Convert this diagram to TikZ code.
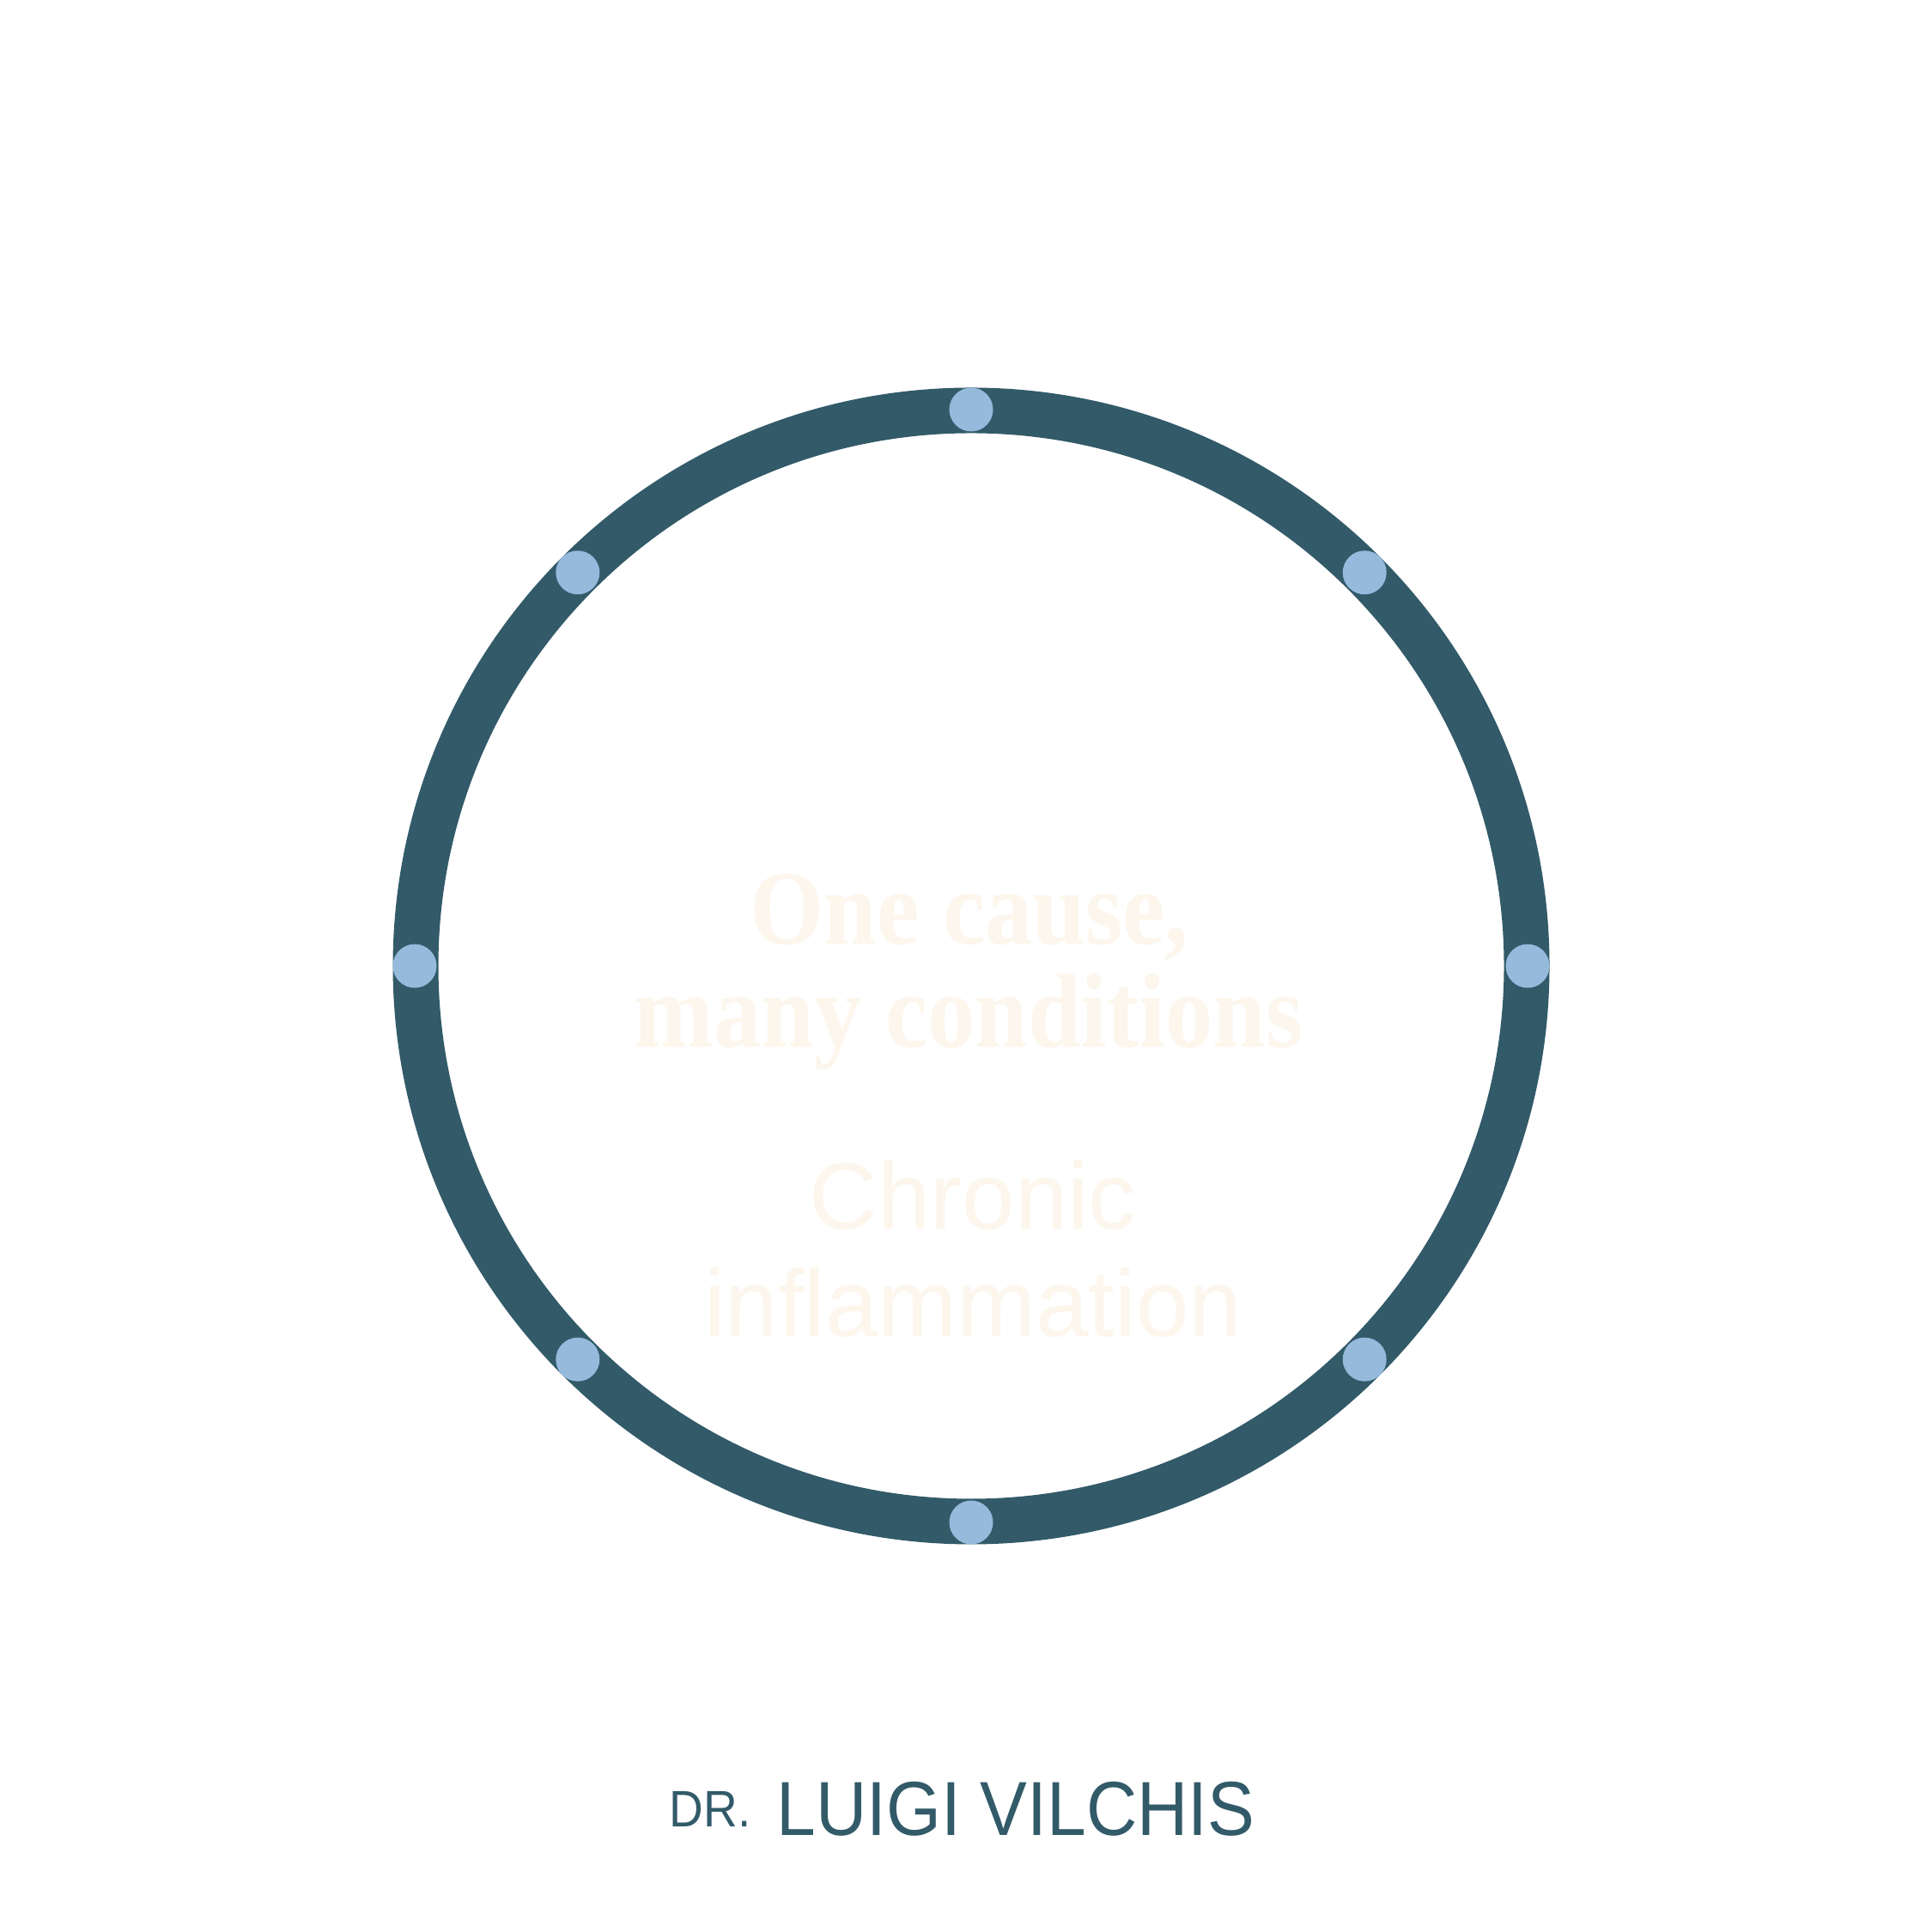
\documentclass[tikz,border=0pt]{standalone}
\usepackage{fontspec}
\usetikzlibrary{calc}
\newfontfamily\headfont[FakeStretch=0.9]{Liberation Serif}
\newfontfamily\subfont{Liberation Sans}
\newfontfamily\logofont[FakeStretch=0.92]{Liberation Sans}
\definecolor{ringcol}{HTML}{325A69}
\definecolor{dotcol}{HTML}{95BADC}
\definecolor{creamcol}{HTML}{FCF6EC}
\tikzset{
  ringline/.style={draw=ringcol, line width=0.53cm},
  dotmark/.style={circle, fill=dotcol, minimum size=0.51cm, inner sep=0pt},
  headtxt/.style={anchor=base, inner sep=0pt, text=creamcol, font=\headfont\bfseries\fontsize{35}{34}\selectfont},
  subtxt/.style={anchor=base, inner sep=0pt, text=creamcol, font=\subfont\fontsize{31.4}{35}\selectfont},
  logotxt/.style={anchor=base west, inner sep=0pt, text=ringcol}
}
\begin{document}
\begin{tikzpicture}
\useasboundingbox (0,0) rectangle (22.5,22.5);
\fill[white] (0,0) rectangle (22.5,22.5);
\coordinate (c) at (11.31,11.25);
\draw[ringline] (c) circle (6.47);
\foreach \a [count=\i] in {90,45,0,-45,-90,-135,180,135}{
  \node[dotmark] (d\i) at ($(c)+(\a:6.48)$) {};
}
\node[headtxt] (h1) at (11.29,11.50) {One cause,};
\node[headtxt] (h2) at (11.28,10.30) {many conditions};
\node[subtxt] (s1) at (11.33,8.18) {Chronic};
\node[subtxt] (s2) at (11.33,6.93) {inflammation};
\node[logotxt, font=\logofont\fontsize{17}{20}\selectfont] (dr) at (7.79,1.22) {DR.};
\node[logotxt, font=\logofont\fontsize{25.4}{30}\selectfont] (name) at (9.04,1.12) {LUIGI VILCHIS};
\end{tikzpicture}
\end{document}
